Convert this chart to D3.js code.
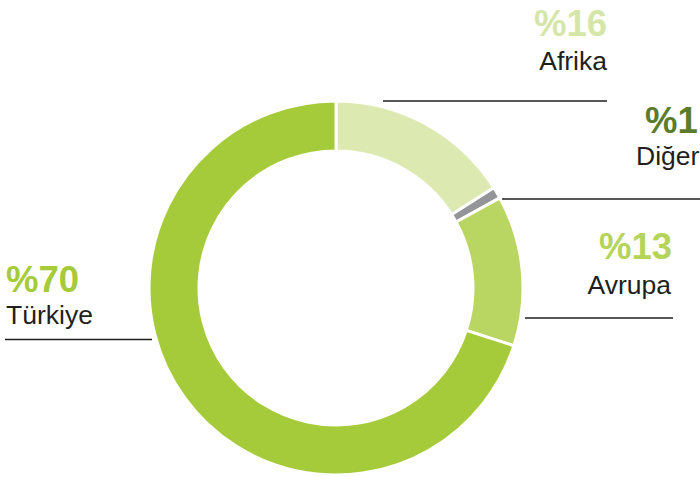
<!DOCTYPE html>
<html>
<head>
<meta charset="utf-8">
<script src="https://cdn.jsdelivr.net/npm/d3@7"></script>
<style>
  html, body { margin: 0; padding: 0; background: #fff; }
  svg { display: block; }
  text { font-family: "Liberation Sans", Arial, sans-serif; }
</style>
</head>
<body>
<svg id="chart" width="700" height="477"></svg>
<script>
const categories = ["Afrika", "Diğer", "Avrupa", "Türkiye"];
const values = [16, 1, 13, 70];
const valueLabels = ["%16", "%1", "%13", "%70"];
const sliceColors = ["#dce9b1", "#939598", "#b9d662", "#a5cb3a"];
const valueColors = ["#d6e6a8", "#5b7d2b", "#b5d45a", "#a5cb3a"];

const svg = d3.select("#chart");
const cx = 336, cy = 288, R = 187, r = 137;

const pie = d3.pie().sort(null).value(d => d.value);
const arc = d3.arc().innerRadius(r).outerRadius(R);
const data = categories.map((c, i) => ({ name: c, value: values[i], color: sliceColors[i] }));

const g = svg.append("g").attr("transform", `translate(${cx},${cy})`);
g.selectAll("path").data(pie(data)).enter().append("path")
  .attr("d", arc)
  .attr("fill", d => d.data.color)
  .attr("stroke", "#fff")
  .attr("stroke-width", 3)
  .attr("stroke-linejoin", "miter");

// label layout (positions only)
const layout = [
  { anchor: "end",   vx: 607, vy: 36,  nx: 607, ny: 70,  lx1: 383, lx2: 607, ly: 101 },
  { anchor: "start", vx: 645, vy: 133, nx: 636, ny: 165, lx1: 502, lx2: 700, ly: 199 },
  { anchor: "end",   vx: 672, vy: 259, nx: 671, ny: 294, lx1: 525, lx2: 673, ly: 318 },
  { anchor: "start", vx: 6,   vy: 292, nx: 6,   ny: 324, lx1: 5,   lx2: 152, ly: 339.5 }
];

categories.forEach((c, i) => {
  const L = layout[i];
  svg.append("text")
    .attr("x", L.vx).attr("y", L.vy)
    .attr("text-anchor", L.anchor)
    .attr("font-size", 36.5).attr("font-weight", "bold")
    .attr("fill", valueColors[i])
    .text(valueLabels[i]);
  svg.append("text")
    .attr("x", L.nx).attr("y", L.ny)
    .attr("text-anchor", L.anchor)
    .attr("font-size", 26.5)
    .attr("fill", "#231f20")
    .text(c);
  svg.append("line")
    .attr("x1", L.lx1).attr("x2", L.lx2)
    .attr("y1", L.ly).attr("y2", L.ly)
    .attr("stroke", "#231f20").attr("stroke-width", 1.5);
});
</script>
</body>
</html>
